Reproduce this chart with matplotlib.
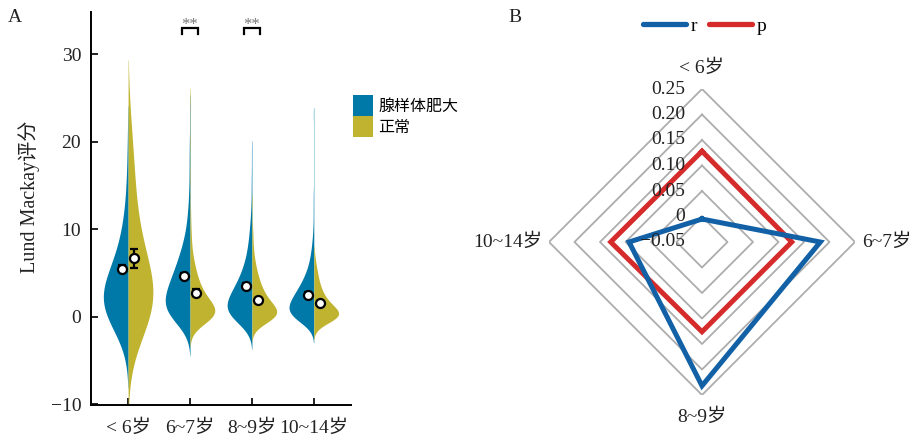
import numpy as np
import matplotlib
matplotlib.use("Agg")
import matplotlib.pyplot as plt
from matplotlib.patches import Patch
from matplotlib.lines import Line2D

plt.rcParams['font.family'] = ['Liberation Serif', 'Noto Sans CJK SC', 'DejaVu Sans']
plt.rcParams['axes.unicode_minus'] = True

# ---------------- data: panel A ----------------
groups = ['< 6岁', '6~7岁', '8~9岁', '10~14岁']
series = ['腺样体肥大', '正常']

hyp_scores = [
    [0, 1, 2, 3, 4, 5, 6, 7, 8, 9, 10, 11, 12, 13, 15, 17, 21],
    [0, 1, 2, 3, 4, 5, 6, 7, 8, 9, 10, 11, 12, 13, 14, 16, 18, 20, 24],
    [0, 1, 2, 3, 4, 5, 6, 7, 8, 9, 10, 11, 12, 14, 16, 19],
    [0, 1, 2, 3, 4, 5, 6, 7, 8, 9, 10, 12, 14, 23],
]
hyp_counts = [
    [14, 14, 12, 10, 7, 5, 4, 3, 3, 2, 2, 1, 1, 1, 1, 1, 1],
    [20, 18, 16, 14, 12, 10, 8, 6, 5, 3, 2, 2, 1, 1, 1, 1, 1, 1, 1],
    [25, 22, 18, 14, 10, 8, 5, 4, 3, 2, 2, 1, 1, 1, 1, 1],
    [28, 25, 20, 15, 10, 7, 4, 3, 2, 1, 1, 1, 1, 1],
]
nor_scores = [
    [0, 1, 2, 3, 4, 5, 6, 7, 8, 9, 10, 11, 12, 13, 14, 16, 17, 18, 20, 22],
    [0, 1, 2, 3, 4, 5, 6, 7, 8, 9, 10, 12, 16, 20, 25],
    [0, 1, 2, 3, 4, 5, 6, 7, 8, 9, 10, 13],
    [0, 1, 2, 3, 4, 5, 6, 7],
]
nor_counts = [
    [7, 6, 5, 4, 3, 2, 2, 2, 2, 1, 1, 1, 1, 1, 1, 1, 1, 1, 1, 1],
    [30, 20, 12, 9, 6, 5, 3, 2, 1, 1, 1, 1, 1, 1, 1],
    [35, 22, 14, 10, 7, 5, 3, 2, 1, 1, 1, 1],
    [40, 20, 12, 8, 5, 4, 2, 1],
]
hyp_bw = [3.1, 1.7, 1.4, 1.1]
nor_bw = [4.2, 1.2, 1.0, 0.9]

hyp_mean = [5.46, 4.66, 3.55, 2.5]
hyp_se = [0.4, 0.3, 0.3, 0.3]
nor_mean = [6.68, 2.7, 1.95, 1.6]
nor_se = [1.1, 0.4, 0.2, 0.2]

sig_groups = [1, 2]  # indices with '**'

# ---------------- data: panel B ----------------
radar_labels = ['< 6岁', '6~7岁', '8~9岁', '10~14岁']
r_values = [-0.005, 0.182, 0.232, 0.093]
p_values = [0.128, 0.126, 0.126, 0.129]
radar_levels = [0, 0.05, 0.10, 0.15, 0.20, 0.25]
radar_tick_labels = ['−0.05', '0', '0.05', '0.10', '0.15', '0.20', '0.25']
radar_tick_values = [-0.05, 0, 0.05, 0.10, 0.15, 0.20, 0.25]

BLUE = '#0079A8'
OLIVE = '#BFB32F'
RBLUE = '#1261A6'
RRED = '#D62B2B'

fig = plt.figure(figsize=(9.17, 4.38), dpi=100)

# ---------------- Panel A ----------------
ax = fig.add_axes([0.0992, 0.0753, 0.2835, 0.8973])
half_w = 0.40


def kde(scores, counts, bw):
    v = np.asarray(scores, float)
    c = np.asarray(counts, float)
    y = np.linspace(v.min() - 3.5 * bw, v.max() + 3.5 * bw, 900)
    d = (c[None, :] * np.exp(-0.5 * ((y[:, None] - v[None, :]) / bw) ** 2)).sum(axis=1)
    d = d / d.max()
    keep = d >= 0.012
    return y[keep], d[keep]


positions = np.arange(1, len(groups) + 1)
for i, pos in enumerate(positions):
    y, d = kde(hyp_scores[i], hyp_counts[i], hyp_bw[i])
    ax.fill_betweenx(y, pos - d * half_w, pos, color=BLUE, lw=0, zorder=2)
    y, d = kde(nor_scores[i], nor_counts[i], nor_bw[i])
    ax.fill_betweenx(y, pos, pos + d * half_w, color=OLIVE, lw=0, zorder=2)

ax.errorbar(positions - 0.1, hyp_mean, yerr=hyp_se, fmt='o', ms=6.5, mfc='white',
            mec='black', mew=1.6, ecolor='black', elinewidth=1.6, capsize=3, capthick=1.6, zorder=4)
ax.errorbar(positions + 0.1, nor_mean, yerr=nor_se, fmt='o', ms=6.5, mfc='white',
            mec='black', mew=1.6, ecolor='black', elinewidth=1.6, capsize=3, capthick=1.6, zorder=4)

for i in sig_groups:
    pos = positions[i]
    ax.plot([pos - 0.125, pos - 0.125, pos + 0.125, pos + 0.125], [32.25, 32.95, 32.95, 32.25],
            color='black', lw=1.6, clip_on=False, solid_joinstyle='miter')
    ax.text(pos, 32.4, '**', ha='center', va='bottom', fontsize=12, color='#777777', clip_on=False)

ax.set_xlim(0.4, 4.6)
ax.set_ylim(-10.1, 34.8)
ax.set_xticks(positions)
ax.set_xticklabels(groups)
ax.set_yticks([-10, 0, 10, 20, 30])
ax.set_yticklabels(['−10', '0', '10', '20', '30'])
for s in ['top', 'right']:
    ax.spines[s].set_visible(False)
for s in ['left', 'bottom']:
    ax.spines[s].set_linewidth(1.4)
ax.tick_params(direction='in', length=5, width=1.4, labelsize=14, colors='#222222')
ax.tick_params(axis='y', pad=7)
ax.tick_params(axis='x', pad=10)
ax.set_ylabel('Lund Mackay评分', fontsize=14.5, color='#222222')
ax.yaxis.set_label_coords(-0.196, 0.53)

ax.legend(handles=[Patch(fc=BLUE, ec='none', label=series[0]), Patch(fc=OLIVE, ec='none', label=series[1])],
          loc='upper left', bbox_to_anchor=(353 / 917, 1 - 95 / 438), bbox_transform=fig.transFigure,
          frameon=False, fontsize=11.5, handlelength=1.27, handleheight=1.65, labelspacing=0.0,
          handletextpad=0.3, borderpad=0, borderaxespad=0)

fig.text(15 / 917, 1 - 18 / 438, 'A', fontsize=14, ha='center', va='center', color='#222222')
fig.text(515 / 917, 1 - 18 / 438, 'B', fontsize=14, ha='center', va='center', color='#222222')

# ---------------- Panel B (radar) ----------------
axr = fig.add_axes([(702 - 153) / 917, (438 - 242 - 153) / 438, 306 / 917, 306 / 438], projection='polar')
axr.set_theta_zero_location('N')
axr.set_theta_direction(-1)
angles = np.deg2rad([0, 90, 180, 270])
ang_closed = np.concatenate([angles, angles[:1]])
axr.set_ylim(-0.05, 0.25)
axr.grid(False)
axr.spines['polar'].set_visible(False)
axr.set_xticks([])
axr.set_yticks([])
axr.patch.set_alpha(0)

for lv in radar_levels:
    axr.plot(ang_closed, [lv] * 5, color='#ADADAD', lw=1.3, zorder=1)

lr, = axr.plot(ang_closed, r_values + r_values[:1], color=RBLUE, lw=3.6, zorder=3,
               solid_joinstyle='miter')
lp, = axr.plot(ang_closed, p_values + p_values[:1], color=RRED, lw=3.6, zorder=2,
               solid_joinstyle='miter')

for val, lab in zip(radar_tick_values, radar_tick_labels):
    axr.annotate(lab, xy=(0, val), xytext=(-12, 0), textcoords='offset points',
                 ha='right', va='center', fontsize=14, color='#222222', zorder=5)

offs = [(0, 9, 'center', 'bottom'), (5, 0, 'left', 'center'), (0, -10, 'center', 'top'), (-5, 0, 'right', 'center')]
for a, lab, (dx, dy, ha, va) in zip(angles, radar_labels, offs):
    axr.annotate(lab, xy=(a, 0.25), xytext=(dx, dy), textcoords='offset points',
                 ha=ha, va=va, fontsize=14, color='#222222', annotation_clip=False)

fig.legend(handles=[Line2D([], [], color=RBLUE, lw=3.8, solid_capstyle='round'),
                    Line2D([], [], color=RRED, lw=3.8, solid_capstyle='round')],
           labels=['r', 'p'], ncol=2, loc='center', bbox_to_anchor=(705 / 917, 1 - 26 / 438),
           frameon=False, fontsize=14, handlelength=2.2, columnspacing=0.6, handletextpad=0.25)

fig.savefig('out.png', dpi=100)
